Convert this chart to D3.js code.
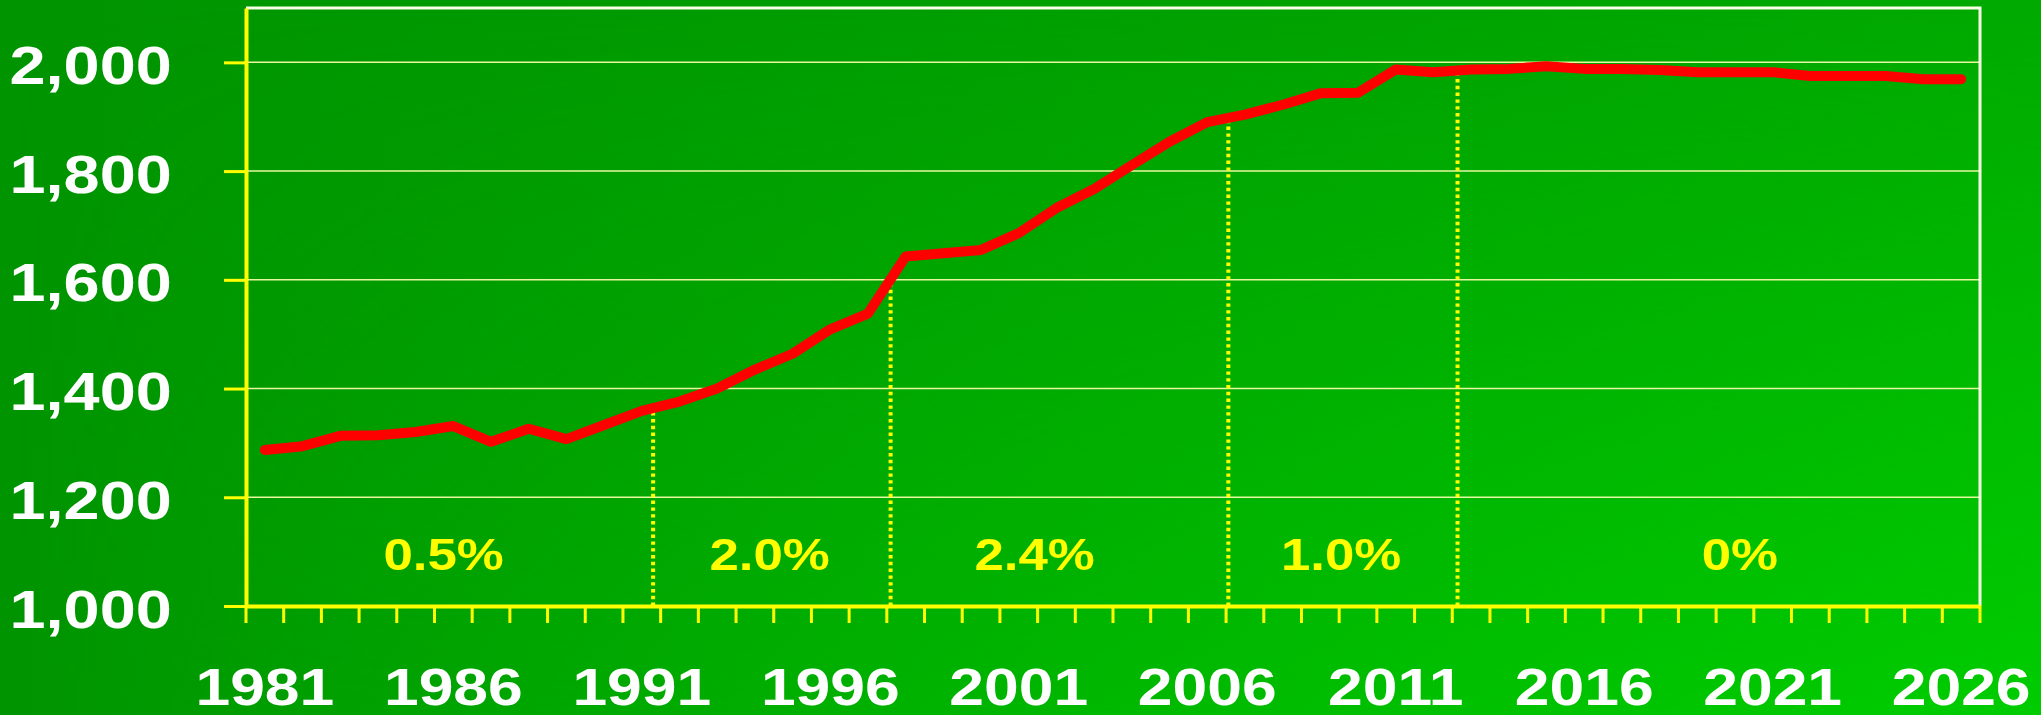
<!DOCTYPE html>
<html><head><meta charset="utf-8">
<script src="https://cdn.jsdelivr.net/npm/d3@7"></script>
<style>html,body{margin:0;padding:0;background:#009800;overflow:hidden}svg{display:block}</style>
</head><body><svg id="chart" width="2041" height="715"></svg>
<script>
// ---- data ----
const years = [1981,1982,1983,1984,1985,1986,1987,1988,1989,1990,
               1991,1992,1993,1994,1995,1996,1997,1998,1999,2000,
               2001,2002,2003,2004,2005,2006,2007,2008,2009,2010,
               2011,2012,2013,2014,2015,2016,2017,2018,2019,2020,
               2021,2022,2023,2024,2025,2026];
const values = [1287,1294,1313,1314,1320,1331,1302,1326,1307,1333,
                1359,1376,1400,1435,1464,1509,1538,1643,1649,1655,
                1686,1732,1767,1811,1854,1890,1904,1922,1943,1944,
                1987,1982,1987,1988,1993,1988,1988,1986,1982,1982,
                1982,1975,1975,1975,1969,1969];
const yTicks = [1000,1200,1400,1600,1800,2000];
const xLabelYears = [1981,1986,1991,1996,2001,2006,2011,2016,2021,2026];
const dividerYears = [1991.3,1997.6,2006.56,2012.64];
const growthLabels = ["0.5%","2.0%","2.4%","1.0%","0%"];
const growthLabelYears = [1985.74,1994.39,2001.42,2009.55,2020.13];
const growthLabelLevel = 1066;

// ---- layout ----
const W = 2041, H = 715;
const mLeft = 246, mRight = 1980, mTop = 8, mBottom = 606;
const FONT = "'Liberation Sans', Arial, Helvetica, sans-serif";
const SX = 1.2;

const svg = d3.select("#chart");
const defs = svg.append("defs");
const gBase = defs.append("linearGradient").attr("id","bgBase")
  .attr("x1",0).attr("y1",0).attr("x2",1).attr("y2",0);
gBase.append("stop").attr("offset",0).attr("stop-color","#009400");
gBase.append("stop").attr("offset",1).attr("stop-color","#00aa00");
const gOver = defs.append("linearGradient").attr("id","bgOver")
  .attr("x1",0).attr("y1",0).attr("x2",1).attr("y2",0);
gOver.append("stop").attr("offset",0).attr("stop-color","#00cc00").attr("stop-opacity",0);
gOver.append("stop").attr("offset",1).attr("stop-color","#00cc00").attr("stop-opacity",1);
const gMask = defs.append("linearGradient").attr("id","bgMaskGrad")
  .attr("x1",0).attr("y1",0).attr("x2",0).attr("y2",1);
gMask.append("stop").attr("offset",0).attr("stop-color","#000");
gMask.append("stop").attr("offset",1).attr("stop-color","#fff");
defs.append("mask").attr("id","bgMask")
  .append("rect").attr("width",W).attr("height",H).attr("fill","url(#bgMaskGrad)");

svg.append("rect").attr("width",W).attr("height",H).attr("fill","url(#bgBase)");
svg.append("rect").attr("width",W).attr("height",H).attr("fill","url(#bgOver)").attr("mask","url(#bgMask)");

// ---- scales ----
const x = d3.scaleBand().domain(years).range([mLeft,mRight]).paddingInner(0).paddingOuter(0);
const bw = x.bandwidth();
const xc = d => x(d) + bw/2;
const xLin = d3.scaleLinear().domain([years[0], years[years.length-1]])
  .range([xc(years[0]), xc(years[years.length-1])]);
const y = d3.scaleLinear().domain([1000,2100]).range([mBottom, mTop]);

// ---- gridlines ----
svg.append("g").selectAll("line").data(yTicks.filter(v => v > 1000)).join("line")
  .attr("x1",mLeft).attr("x2",mRight).attr("y1",d=>y(d)).attr("y2",d=>y(d))
  .attr("stroke","#e8f8a0").attr("stroke-width",1.5);

// ---- frame (top & right) ----
svg.append("path").attr("d",`M${mLeft},${mTop}H${mRight}V${mBottom}`)
  .attr("fill","none").attr("stroke","#f8ffe6").attr("stroke-width",3);

// ---- dividers ----
const interp = yr => {
  const i = Math.min(Math.floor(yr - years[0]), years.length-2);
  const t = yr - years[i];
  return values[i] + (values[i+1]-values[i])*t;
};
svg.append("g").selectAll("line").data(dividerYears).join("line")
  .attr("x1",d=>xLin(d)).attr("x2",d=>xLin(d))
  .attr("y1",mBottom).attr("y2",d=>y(interp(d)))
  .attr("stroke","#ffff00").attr("stroke-width",4).attr("stroke-dasharray","3.4 3.4");

// ---- growth labels ----
svg.append("g").selectAll("text").data(growthLabels).join("text")
  .attr("transform",(d,i)=>`translate(${xLin(growthLabelYears[i])},${y(growthLabelLevel)}) scale(${SX},1)`)
  .attr("text-anchor","middle").attr("fill","#ffff00")
  .attr("font-family",FONT).attr("font-weight","bold").attr("font-size",44)
  .text(d=>d);

// ---- line ----
const line = d3.line().x((d,i)=>xc(years[i])).y(d=>y(d));
svg.append("path").datum(values).attr("d",line)
  .attr("fill","none").attr("stroke","#ff0000").attr("stroke-width",10)
  .attr("stroke-linejoin","round").attr("stroke-linecap","round");

// ---- x axis ----
const xAxis = svg.append("g").attr("transform",`translate(0,${mBottom})`)
  .call(d3.axisBottom(x).tickValues(xLabelYears).tickSize(0).tickSizeOuter(0).tickPadding(0));
xAxis.select(".domain").attr("stroke","#ffff00").attr("stroke-width",4);
xAxis.selectAll("text")
  .attr("y",null).attr("dy",null)
  .attr("transform",`translate(0,99) scale(${SX},1)`)
  .attr("fill","#ffffff").attr("font-family",FONT).attr("font-weight","bold").attr("font-size",52);
// boundary ticks
const bounds = years.map(d => x(d)).concat([x.range()[1]]);
svg.append("g").selectAll("line").data(bounds).join("line")
  .attr("x1",d=>d).attr("x2",d=>d).attr("y1",mBottom).attr("y2",mBottom+17)
  .attr("stroke","#ffff00").attr("stroke-width",3);

// ---- y axis ----
const yAxis = svg.append("g").attr("transform",`translate(${mLeft},0)`)
  .call(d3.axisLeft(y).tickValues(yTicks).tickSize(22).tickSizeOuter(0).tickFormat(d3.format(",")));
yAxis.select(".domain").attr("stroke","#ffff00").attr("stroke-width",4);
yAxis.selectAll(".tick line").attr("stroke","#ffff00").attr("stroke-width",3);
yAxis.selectAll("text")
  .attr("x",null).attr("dy",null)
  .attr("transform",`translate(-74.3,21) scale(${SX},1)`)
  .attr("text-anchor","end")
  .attr("fill","#ffffff").attr("font-family",FONT).attr("font-weight","bold").attr("font-size",54);
</script>
</body></html>
